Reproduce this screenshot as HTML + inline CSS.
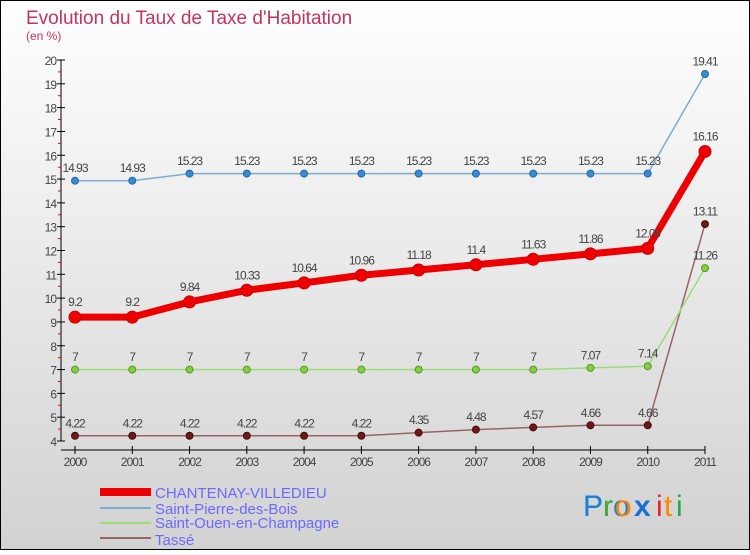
<!DOCTYPE html>
<html><head><meta charset="utf-8"><style>
html,body{margin:0;padding:0}
body{width:750px;height:550px;overflow:hidden;font-family:"Liberation Sans",sans-serif}
</style></head><body>
<svg id="chart" width="750" height="550" xmlns="http://www.w3.org/2000/svg">
<defs><linearGradient id="bg" x1="0" y1="0" x2="0" y2="1"><stop offset="0" stop-color="#ffffff"/><stop offset="1" stop-color="#d2d2d2"/></linearGradient></defs>
<rect x="0.5" y="0.5" width="749" height="549" fill="url(#bg)" stroke="#000"/>
<text x="26" y="24" font-size="19" fill="#c8325f">Evolution du Taux de Taxe d'Habitation</text>
<text x="26" y="40" font-size="12" fill="#c8325f">(en %)</text>
<g id="axes"></g><g id="series"></g>
<g>
<rect x="100" y="488" width="51" height="8" fill="#ee0000"/>
<text x="155" y="498" font-size="15" fill="#6a6aff">CHANTENAY-VILLEDIEU</text>
<rect x="100" y="507" width="51" height="2" fill="#7aaed0"/>
<text x="155" y="514" font-size="15" fill="#6a6aff">Saint-Pierre-des-Bois</text>
<rect x="100" y="522" width="51" height="2" fill="#99dd77"/>
<text x="155" y="528" font-size="15" fill="#6a6aff">Saint-Ouen-en-Champagne</text>
<rect x="100" y="537" width="51" height="2" fill="#9a6464"/>
<text x="155" y="545" font-size="15" fill="#6a6aff">Tassé</text>
</g>
<g font-size="30" font-family="Liberation Sans,sans-serif">
<text x="583" y="516"><tspan fill="#1a7fd6">Pro</tspan><tspan fill="#ff8800" dx="-52">  </tspan></text>
<text x="583" y="516" fill="#1a7fd6">P</text><text x="603" y="516" fill="#44aa33">r</text><text x="615" y="516" fill="#ff8800">o</text><text x="634" y="516" fill="#1a6fd6" font-weight="bold">x</text><text x="656" y="516" fill="#ee2222">i</text><text x="664" y="516" fill="#ff8800">t</text><text x="676" y="516" fill="#22aa44">i</text>
</g>
</svg>
<script>
const years=[2000,2001,2002,2003,2004,2005,2006,2007,2008,2009,2010,2011];
const chantenay=[9.2,9.2,9.84,10.33,10.64,10.96,11.18,11.4,11.63,11.86,12.09,16.16];
const saintPierre=[14.93,14.93,15.23,15.23,15.23,15.23,15.23,15.23,15.23,15.23,15.23,19.41];
const saintOuen=[7,7,7,7,7,7,7,7,7,7.07,7.14,11.26];
const tasse=[4.22,4.22,4.22,4.22,4.22,4.22,4.35,4.48,4.57,4.66,4.66,13.11];
const yTicks=[4,5,6,7,8,9,10,11,12,13,14,15,16,17,18,19,20];
const NS="http://www.w3.org/2000/svg";
const x=i=>75+i*(630/11);
const y=v=>441-(v-4)*(381/16);
function mk(tag,attrs,parent,txt){const e=document.createElementNS(NS,tag);for(const k in attrs)e.setAttribute(k,attrs[k]);if(txt!==undefined)e.textContent=txt;parent.appendChild(e);return e;}
const axes=document.getElementById('axes'),ser=document.getElementById('series');
const ya=mk('line',{x1:61,y1:y(20),x2:61,y2:y(4),stroke:'#000'},axes);


yTicks.forEach(t=>{
  mk('line',{x1:57,y1:y(t),x2:65,y2:y(t),stroke:'#000'},axes);
  if(t<20){const m=mk('line',{x1:58,y1:y(t+0.5),x2:61,y2:y(t+0.5),stroke:'#e00'},axes);}
  const l=mk('text',{x:56,y:y(t)+5,'font-size':12,fill:'#444','text-anchor':'end','letter-spacing':'-1'},axes,t);
  
  
});
const xa=mk('line',{x1:61,y1:450,x2:x(11),y2:450,stroke:'#000'},axes);


years.forEach((yr,i)=>{
  mk('line',{x1:x(i),y1:446,x2:x(i),y2:454,stroke:'#000'},axes);
  const l=mk('text',{x:x(i),y:466,'font-size':12,fill:'#444','text-anchor':'middle','letter-spacing':'-1'},axes,yr);
  
  
});
function series(vals,name,color,lw,r,dot,dotStroke){
  const g=mk('g',{},ser);
  
  
  mk('polyline',{points:vals.map((v,i)=>x(i)+','+y(v)).join(' '),fill:'none',stroke:color,'stroke-width':lw,'stroke-linejoin':'round'},g);
  vals.forEach((v,i)=>{
    const c=mk('circle',{cx:x(i),cy:y(v),r:r,fill:dot,stroke:dotStroke,'stroke-width':1},g);
    
    
    const t=mk('text',{x:x(i),y:y(v)-r-5,'font-size':12,fill:'#444','text-anchor':'middle','letter-spacing':'-1'},g,v);
    
    
  });
}
series(tasse,'tasse','#9a6464',1.5,3.5,'#6a1a1a','#4a0a0a');
series(saintOuen,'saint-ouen','#99dd77',1.5,3.5,'#88cc44','#559922');
series(saintPierre,'saint-pierre','#7aaed0',1.5,3.5,'#3a8ad0','#2266aa');
series(chantenay,'chantenay','#ee0000',7,6,'#ee0000','#cc0000');
</script>
</body></html>
